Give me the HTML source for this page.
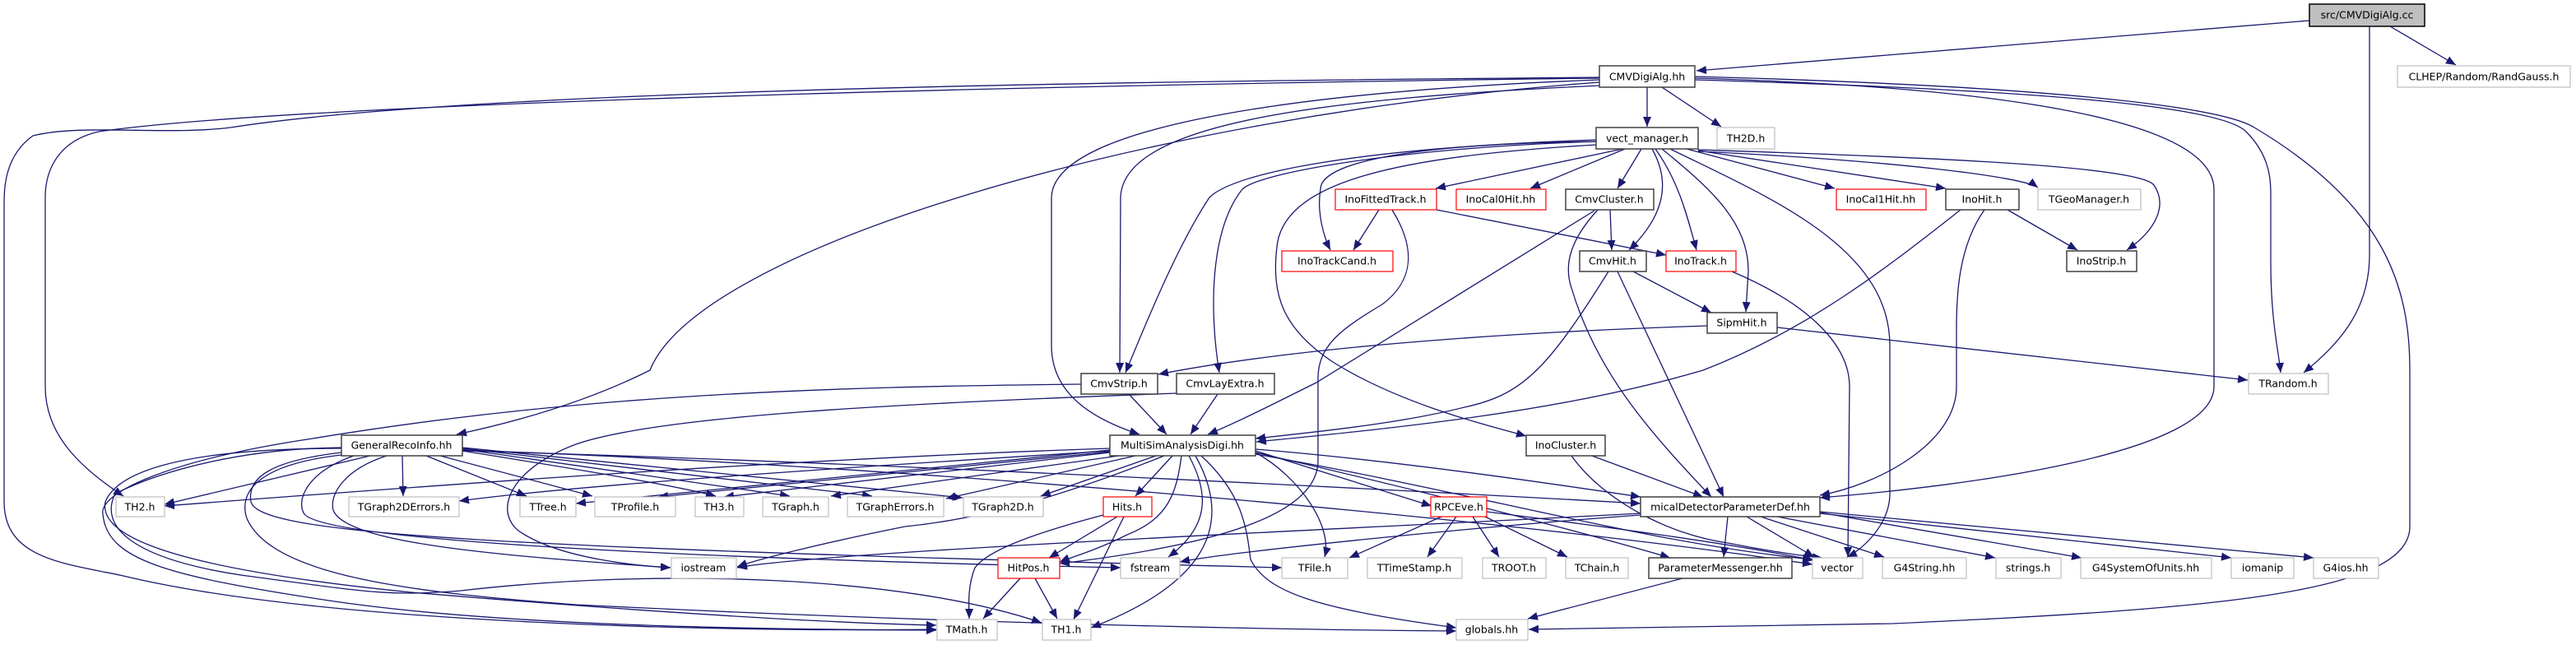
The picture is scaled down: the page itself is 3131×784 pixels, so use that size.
<!DOCTYPE html>
<html><head><meta charset="utf-8"><style>
html,body{margin:0;padding:0;background:#fff;}
svg{display:block;}
text{font-family:"DejaVu Sans","Liberation Sans",sans-serif;font-size:12.5px;fill:#000;text-anchor:middle;dominant-baseline:central;}
.e{fill:none;stroke:#191970;stroke-width:1.3;marker-end:url(#a);}
.b{fill:#fff;stroke:#404040;stroke-width:1.5;}
.g{fill:#fff;stroke:#bfbfbf;stroke-width:1.2;}
.r{fill:#fff;stroke:#ff0000;stroke-width:1.2;}
</style></head><body>
<svg width="3131" height="784" viewBox="0 0 3131 784" xmlns="http://www.w3.org/2000/svg">
<defs><marker id="a" markerUnits="userSpaceOnUse" markerWidth="14" markerHeight="12" refX="12" refY="5" orient="auto"><path d="M0,0 L12,5 L0,10 Z" fill="#191970"/></marker></defs>
<g>
<path class="e" d="M2807,25 L2062,86"/>
<path class="e" d="M2905,32 L2985,79"/>
<path class="e" d="M2880,32 L2880,310 C2880,380 2840,420 2800,453"/>
<path class="e" d="M2002,106 L2002,154"/>
<path class="e" d="M2020,106 L2092,154"/>
<path class="e" d="M1944,95 C1500,100 400,120 120,160 C55,175 55,230 55,240 L55,470 C55,530 100,570 150,603"/>
<path class="e" d="M1944,94 C1500,98 600,105 280,155 C200,165 100,150 40,165 C5,190 5,230 5,250 L5,610 C5,680 80,685 150,700 C400,760 900,768 1138,765"/>
<path class="e" d="M1944,100 C1400,140 850,300 790,450 C720,485 640,510 555,528"/>
<path class="e" d="M1944,97 C1600,110 1280,150 1278,240 L1278,420 C1278,480 1330,510 1385,528"/>
<path class="e" d="M1944,104 C1600,120 1365,150 1362,240 L1361,453"/>
<path class="e" d="M2060,95 C2400,105 2690,140 2691,230 L2691,470 C2691,550 2400,590 2212,605"/>
<path class="e" d="M2060,97 C2500,110 2700,130 2730,160 C2760,190 2760,220 2760,240 L2760,320 C2760,390 2770,430 2772,453"/>
<path class="e" d="M2060,93 C2500,105 2700,130 2740,155 C2900,250 2929,350 2929,450 L2929,640 C2929,720 2700,740 2300,758 L1858,765"/>
<path class="e" d="M1972,181 L1745,229"/>
<path class="e" d="M1975,181 L1860,229"/>
<path class="e" d="M1995,181 L1966,229"/>
<path class="e" d="M2008,181 C2030,220 2025,260 1980,304"/>
<path class="e" d="M2012,181 C2040,220 2050,260 2062,304"/>
<path class="e" d="M2020,181 C2080,230 2125,270 2125,330 L2122,379"/>
<path class="e" d="M2030,181 C2150,240 2297,300 2297,420 L2297,600 C2297,640 2260,670 2245,677"/>
<path class="e" d="M2050,181 L2230,229"/>
<path class="e" d="M2064,183 L2365,229"/>
<path class="e" d="M2064,184 C2300,195 2460,215 2477,228"/>
<path class="e" d="M2064,182 C2300,190 2600,200 2618,225 C2635,250 2620,280 2585,304"/>
<path class="e" d="M1940,172 C1700,175 1605,200 1605,230 C1600,260 1610,290 1617,304"/>
<path class="e" d="M1940,170 C1650,180 1500,210 1470,240 C1430,300 1390,400 1368,453"/>
<path class="e" d="M1940,172 C1700,180 1530,210 1510,230 C1470,280 1470,380 1482,453"/>
<path class="e" d="M1940,176 C1700,190 1560,220 1552,300 C1545,360 1560,400 1620,440 C1700,490 1800,515 1855,530"/>
<path class="e" d="M1676,255 L1645,304"/>
<path class="e" d="M1746,255 L2025,310"/>
<path class="e" d="M1692,255 C1720,300 1720,340 1680,370 C1630,400 1602,420 1602,460 L1602,560 C1602,620 1500,660 1288,685"/>
<path class="e" d="M1957,255 L1959,304"/>
<path class="e" d="M1938,256 L1600,465 C1540,495 1500,515 1468,528"/>
<path class="e" d="M1942,255 C1910,290 1900,320 1910,350 C1940,450 2000,520 2080,604"/>
<path class="e" d="M1985,330 L2080,380"/>
<path class="e" d="M1955,330 C1880,450 1850,480 1780,495 C1700,515 1600,525 1526,533"/>
<path class="e" d="M1966,330 L2095,604"/>
<path class="e" d="M2105,330 C2200,370 2248,420 2248,470 L2246,677"/>
<path class="e" d="M2075,396 C1800,405 1560,425 1408,455"/>
<path class="e" d="M2160,398 L2732,462"/>
<path class="e" d="M2440,255 L2525,304"/>
<path class="e" d="M2412,255 C2380,300 2378,360 2378,400 L2378,470 C2378,540 2280,590 2212,602"/>
<path class="e" d="M2383,255 C2300,320 2200,400 2070,450 C1900,500 1700,520 1527,537"/>
<path class="e" d="M1372,479 L1418,528"/>
<path class="e" d="M1314,467 C1000,470 700,480 380,533 C200,560 120,600 125,625 C130,680 200,700 400,730 C600,760 900,765 1138,766"/>
<path class="e" d="M1480,479 L1447,528"/>
<path class="e" d="M1430,478 C1100,490 800,505 700,540 C620,570 600,620 630,645 C680,680 780,688 815,690"/>
<path class="e" d="M450,554 L200,613"/>
<path class="e" d="M489,554 L490,603"/>
<path class="e" d="M518,554 L640,603"/>
<path class="e" d="M535,554 L720,603"/>
<path class="e" d="M562,548 C700,570 820,590 870,603"/>
<path class="e" d="M562,546 L960,603"/>
<path class="e" d="M562,545 L1060,603"/>
<path class="e" d="M562,544 L1170,605"/>
<path class="e" d="M562,548 C1000,560 1600,590 1994,612"/>
<path class="e" d="M470,554 C420,570 400,600 405,620 C420,660 600,675 815,690"/>
<path class="e" d="M430,554 C370,575 360,610 370,625 C400,660 900,680 1362,690"/>
<path class="e" d="M415,550 C330,560 300,580 305,610 C315,650 600,665 1558,690"/>
<path class="e" d="M415,545 C200,545 140,580 128,610 C120,650 200,690 500,720 C800,745 1000,757 1138,760"/>
<path class="e" d="M415,544 C300,545 200,570 140,600 C120,640 160,680 300,700 C450,720 470,725 560,718 C800,690 1100,700 1266,757"/>
<path class="e" d="M415,553 C310,565 290,600 300,630 C330,700 500,720 700,735 C1100,755 1500,765 1770,767"/>
<path class="e" d="M562,547 C1200,570 1900,640 2203,686"/>
<path class="e" d="M1349,545 C900,560 400,600 200,615"/>
<path class="e" d="M1349,548 C1000,570 700,590 558,609"/>
<path class="e" d="M1349,547 L700,612"/>
<path class="e" d="M1349,549 L800,604"/>
<path class="e" d="M1349,550 L880,604"/>
<path class="e" d="M1360,554 L1010,603"/>
<path class="e" d="M1380,554 L1150,606"/>
<path class="e" d="M1405,554 L1265,603"/>
<path class="e" d="M1425,554 L1380,603"/>
<path class="e" d="M1436,554 C1430,600 1420,630 1370,650 C1330,670 1300,678 1288,683"/>
<path class="e" d="M1415,554 C1300,600 1200,630 1100,640 C1000,660 920,680 896,689"/>
<path class="e" d="M1445,554 C1470,600 1470,640 1420,677"/>
<path class="e" d="M1453,554 C1490,620 1490,700 1326,763"/>
<path class="e" d="M1460,554 C1510,600 1515,640 1520,680 C1540,720 1600,740 1770,763"/>
<path class="e" d="M1526,550 C1580,580 1620,640 1610,677"/>
<path class="e" d="M1526,548 L1740,615"/>
<path class="e" d="M1526,546 C1700,560 1900,590 1994,604"/>
<path class="e" d="M1526,550 C1700,590 1900,640 2030,678"/>
<path class="e" d="M1526,552 C1800,600 2000,660 2203,680"/>
<path class="e" d="M1358,628 L1275,678"/>
<path class="e" d="M1366,628 L1305,753"/>
<path class="e" d="M1341,626 C1250,650 1200,670 1185,690 C1175,715 1178,740 1178,752"/>
<path class="e" d="M1240,703 L1195,752"/>
<path class="e" d="M1258,703 L1285,752"/>
<path class="e" d="M1935,554 L2070,604"/>
<path class="e" d="M1910,554 C1950,610 2030,650 2100,660 C2150,670 2200,677 2215,678"/>
<path class="e" d="M1752,628 L1640,678"/>
<path class="e" d="M1770,628 L1735,677"/>
<path class="e" d="M1790,628 L1822,677"/>
<path class="e" d="M1805,628 L1905,677"/>
<path class="e" d="M1807,622 C1950,640 2100,660 2205,681"/>
<path class="e" d="M1994,624 C1700,640 1000,670 896,690"/>
<path class="e" d="M1994,626 C1800,640 1500,670 1434,683"/>
<path class="e" d="M2100,628 L2095,677"/>
<path class="e" d="M2123,628 L2205,677"/>
<path class="e" d="M2140,628 L2290,677"/>
<path class="e" d="M2160,628 L2425,678"/>
<path class="e" d="M2212,623 L2530,678"/>
<path class="e" d="M2212,624 L2712,678"/>
<path class="e" d="M2212,622 L2812,678"/>
<path class="e" d="M2045,703 L1857,752"/>
</g>
<g>
<rect x="2807" y="5" width="140" height="27" fill="#bfbfbf" stroke="#000" stroke-width="1.5"/><text x="2877" y="18">src/CMVDigiAlg.cc</text>
<rect class="g" x="2914" y="80" width="210" height="26"/><text x="3019" y="93">CLHEP/Random/RandGauss.h</text>
<rect class="b" x="1944" y="80" width="116" height="26"/><text x="2002" y="93">CMVDigiAlg.hh</text>
<rect class="b" x="1940" y="155" width="124" height="26"/><text x="2002" y="168">vect_manager.h</text>
<rect class="g" x="2087" y="155" width="70" height="26"/><text x="2122" y="168">TH2D.h</text>
<rect class="r" x="1623" y="230" width="123" height="25"/><text x="1684" y="242">InoFittedTrack.h</text>
<rect class="r" x="1770" y="230" width="109" height="25"/><text x="1824" y="242">InoCal0Hit.hh</text>
<rect class="b" x="1903" y="230" width="107" height="25"/><text x="1956" y="242">CmvCluster.h</text>
<rect class="r" x="2232" y="230" width="109" height="25"/><text x="2286" y="242">InoCal1Hit.hh</text>
<rect class="b" x="2365" y="230" width="89" height="25"/><text x="2409" y="242">InoHit.h</text>
<rect class="g" x="2477" y="230" width="125" height="25"/><text x="2539" y="242">TGeoManager.h</text>
<rect class="r" x="1558" y="305" width="135" height="25"/><text x="1625" y="317">InoTrackCand.h</text>
<rect class="b" x="1920" y="305" width="81" height="25"/><text x="1960" y="317">CmvHit.h</text>
<rect class="r" x="2025" y="305" width="85" height="25"/><text x="2067" y="317">InoTrack.h</text>
<rect class="b" x="2512" y="305" width="85" height="25"/><text x="2554" y="317">InoStrip.h</text>
<rect class="b" x="2075" y="380" width="85" height="25"/><text x="2117" y="392">SipmHit.h</text>
<rect class="b" x="1314" y="454" width="93" height="25"/><text x="1360" y="466">CmvStrip.h</text>
<rect class="b" x="1430" y="454" width="119" height="25"/><text x="1489" y="466">CmvLayExtra.h</text>
<rect class="g" x="2733" y="454" width="97" height="25"/><text x="2781" y="466">TRandom.h</text>
<rect class="b" x="415" y="529" width="147" height="25"/><text x="488" y="541">GeneralRecoInfo.hh</text>
<rect class="b" x="1349" y="529" width="177" height="25"/><text x="1437" y="541">MultiSimAnalysisDigi.hh</text>
<rect class="b" x="1855" y="529" width="96" height="25"/><text x="1903" y="541">InoCluster.h</text>
<rect class="g" x="141" y="604" width="59" height="24"/><text x="170" y="616">TH2.h</text>
<rect class="g" x="424" y="604" width="134" height="24"/><text x="491" y="616">TGraph2DErrors.h</text>
<rect class="g" x="632" y="604" width="68" height="24"/><text x="666" y="616">TTree.h</text>
<rect class="g" x="723" y="604" width="98" height="24"/><text x="772" y="616">TProfile.h</text>
<rect class="g" x="845" y="604" width="59" height="24"/><text x="874" y="616">TH3.h</text>
<rect class="g" x="927" y="604" width="80" height="24"/><text x="967" y="616">TGraph.h</text>
<rect class="g" x="1030" y="604" width="117" height="24"/><text x="1088" y="616">TGraphErrors.h</text>
<rect class="g" x="1171" y="604" width="97" height="24"/><text x="1219" y="616">TGraph2D.h</text>
<rect class="r" x="1341" y="604" width="59" height="24"/><text x="1370" y="616">Hits.h</text>
<rect class="r" x="1739" y="604" width="68" height="24"/><text x="1773" y="616">RPCEve.h</text>
<rect class="b" x="1994" y="604" width="218" height="24"/><text x="2103" y="616">micalDetectorParameterDef.hh</text>
<rect class="g" x="816" y="678" width="79" height="25"/><text x="855" y="690">iostream</text>
<rect class="r" x="1213" y="678" width="75" height="25"/><text x="1250" y="690">HitPos.h</text>
<rect class="g" x="1362" y="678" width="72" height="25"/><text x="1398" y="690">fstream</text>
<rect class="g" x="1558" y="678" width="80" height="25"/><text x="1598" y="690">TFile.h</text>
<rect class="g" x="1662" y="678" width="115" height="25"/><text x="1719" y="690">TTimeStamp.h</text>
<rect class="g" x="1802" y="678" width="77" height="25"/><text x="1840" y="690">TROOT.h</text>
<rect class="g" x="1903" y="678" width="76" height="25"/><text x="1941" y="690">TChain.h</text>
<rect class="b" x="2004" y="678" width="174" height="25"/><text x="2091" y="690">ParameterMessenger.hh</text>
<rect class="g" x="2203" y="678" width="61" height="25"/><text x="2233" y="690">vector</text>
<rect class="g" x="2288" y="678" width="102" height="25"/><text x="2339" y="690">G4String.hh</text>
<rect class="g" x="2426" y="678" width="79" height="25"/><text x="2465" y="690">strings.h</text>
<rect class="g" x="2529" y="678" width="159" height="25"/><text x="2608" y="690">G4SystemOfUnits.hh</text>
<rect class="g" x="2712" y="678" width="76" height="25"/><text x="2750" y="690">iomanip</text>
<rect class="g" x="2812" y="678" width="79" height="25"/><text x="2851" y="690">G4ios.hh</text>
<rect class="g" x="1139" y="753" width="73" height="25"/><text x="1175" y="765">TMath.h</text>
<rect class="g" x="1267" y="753" width="59" height="25"/><text x="1296" y="765">TH1.h</text>
<rect class="g" x="1770" y="753" width="87" height="25"/><text x="1813" y="765">globals.hh</text>
</g>
</svg>
</body></html>
